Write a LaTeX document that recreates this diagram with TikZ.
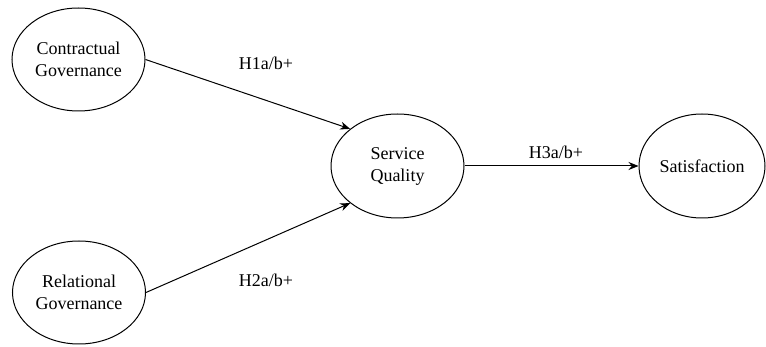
\documentclass[tikz,border=0pt]{standalone}
\usepackage{fontspec}
\setmainfont{Liberation Serif}
\usetikzlibrary{positioning, arrows.meta, shapes.geometric}

\begin{document}
\begin{tikzpicture}[
  x=0.5pt, y=-0.5pt, every node/.style={font=\fontsize{9}{11}\selectfont},
  construct/.style={draw, ellipse, line width=0.5pt, inner sep=0pt, minimum width=66.5pt,
    minimum height=51.5pt, align=center},
  hyp/.style={inner sep=0pt},
  arr/.style={-{Stealth[length=5pt, width=4pt]}, line width=0.5pt}
]
  \useasboundingbox (0,0) rectangle (766,347);

  % Constructs
  \node[construct] (contr) at (78.5,59.5) {Contractual\\Governance};
  \node[construct] (rel) at (79,292.5) {Relational\\Governance};
  \node[construct, minimum height=52pt] (serv) at (397.5,166) {Service\\Quality};
  \node[construct, minimum width=63pt, minimum height=52pt] (sat) at (702,166) {Satisfaction};

  % Hypotheses
  \node[hyp] (h1) at (266,63) {H1a/b+};
  \node[hyp] (h2) at (266,280) {H2a/b+};
  \node[hyp] (h3) at (556,152) {H3a/b+};

  % Arrows
  \draw[arr] (contr.east) -- (serv.north west);
  \draw[arr] (rel.east) -- (serv.south west);
  \draw[arr] (serv.east) -- (sat.west);
\end{tikzpicture}
\end{document}
